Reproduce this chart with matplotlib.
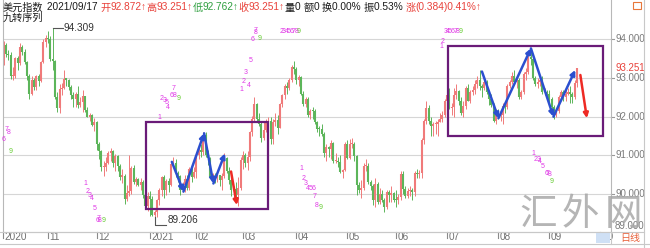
import matplotlib
matplotlib.use('Agg')
import matplotlib.pyplot as plt
import matplotlib.transforms as mtransforms
from matplotlib import font_manager
from matplotlib.patches import Rectangle
from matplotlib.lines import Line2D
import pandas as pd

plt.rcParams['font.family'] = ['Liberation Sans', 'Noto Sans CJK SC', 'DejaVu Sans']
installed = {f.name for f in font_manager.fontManager.ttflist}
narrow = 'Liberation Sans Narrow' if 'Liberation Sans Narrow' in installed else 'Liberation Sans'

# trading days, no bar on 2021-01-01; the calendar runs on to 2021-10-01 for the last tick
days = pd.bdate_range('2020-10-05', '2021-10-01')
days = days[days != pd.Timestamp('2021-01-01')]

first_open = 93.85
closes = [
    # 2020-10
    93.52, 93.87, 93.62, 93.60, 93.05, 93.06, 93.53, 93.38, 93.80, 93.68,
    93.42, 93.05, 92.60, 92.94, 92.76, 93.06, 92.93, 93.41, 93.93, 94.04,
    # 2020-11
    94.02, 93.50, 93.44, 92.52, 92.23, 92.72, 92.74, 92.97, 92.96, 92.76, 92.57,
    92.45, 92.60, 92.30, 92.39, 92.53, 92.18, 92.00, 92.04, 91.79, 91.87,
    # 2020-12
    91.30, 91.12, 90.70, 90.70, 90.80, 91.07, 91.10, 90.80, 90.97, 90.71, 90.45, 90.47,
    89.86, 90.02, 90.08, 90.66, 90.30, 90.38, 90.24, 90.30, 89.97, 89.68, 89.94,
    # 2021-01
    89.87, 89.45, 89.53, 89.83, 90.10, 90.45, 90.11, 90.33, 90.22, 90.77,
    90.80, 90.53, 90.47, 90.10, 90.22, 90.38, 90.15, 90.65, 90.45, 90.58,
    # 2021-02
    91.00, 91.15, 91.08, 91.52, 91.02, 90.92, 90.41, 90.43, 90.42, 90.48,
    90.36, 90.46, 90.93, 90.59, 90.35, 90.09, 90.12, 89.97, 90.14, 90.88,
    # 2021-03
    91.00, 90.81, 90.95, 91.60, 91.95, 92.34, 91.95, 91.82, 91.44, 91.66, 91.85, 91.90,
    91.42, 91.85, 91.92, 91.71, 92.34, 92.55, 92.80, 92.75, 92.94, 93.30, 93.23,
    # 2021-04
    92.94, 93.02, 92.60, 92.34, 92.46, 92.05, 92.16, 92.14, 91.85, 91.68, 91.67,
    91.56, 91.05, 91.21, 91.16, 91.32, 90.85, 90.86, 90.83, 90.58, 90.62, 91.28,
    # 2021-05
    90.94, 91.28, 91.29, 90.97, 90.22, 90.10, 90.15, 90.72, 90.72, 90.30, 90.20,
    89.85, 90.26, 89.80, 90.00, 89.84, 89.65, 90.05, 89.97, 90.03, 89.85,
    # 2021-06
    89.83, 89.92, 90.52, 90.13, 89.95, 90.08, 90.09, 90.05, 90.55, 90.51, 90.54,
    91.40, 91.90, 92.23, 91.90, 91.75, 91.80, 91.80, 91.85, 91.95, 92.05, 92.40,
    # 2021-07
    92.55, 92.23, 92.25, 92.55, 92.66, 92.40, 92.10, 92.28, 92.75, 92.40, 92.63,
    92.70, 92.85, 92.95, 92.80, 92.75, 92.90, 92.65, 92.45, 92.30, 91.90, 92.15,
    # 2021-08
    92.05, 92.05, 92.28, 92.25, 92.80, 92.90, 93.05, 92.90, 92.95, 92.52, 92.65,
    93.10, 93.15, 93.55, 93.50, 93.00, 92.85, 92.90, 92.95, 92.65, 92.65, 92.60,
    # 2021-09
    92.45, 92.25, 92.05, 92.15, 92.50, 92.65, 92.50, 92.60, 92.65, 92.60, 92.50,
    92.867, 93.251,
]
highs = [
    93.90, 93.95, 93.91, 93.72, 93.68, 93.30, 93.55, 93.57, 93.90, 93.85,
    93.75, 93.45, 93.10, 93.05, 93.00, 93.08, 93.10, 93.45, 94.00, 94.12,
    94.22, 94.08, 94.309, 93.48, 92.65, 92.85, 92.86, 93.21, 93.01, 92.98, 92.82,
    92.63, 92.64, 92.80, 92.52, 92.70, 92.54, 92.24, 92.10, 92.06, 91.96,
    91.88, 91.35, 91.13, 90.86, 90.95, 91.10, 91.18, 91.14, 91.03, 91.00, 90.78, 90.65,
    90.52, 90.22, 91.01, 90.72, 90.75, 90.45, 90.40, 90.40, 90.35, 90.00, 90.05,
    90.08, 89.95, 89.58, 89.86, 90.14, 90.47, 90.49, 90.39, 90.40, 90.80,
    90.95, 90.90, 90.60, 90.50, 90.30, 90.48, 90.50, 90.70, 90.75, 90.70,
    91.05, 91.30, 91.30, 91.60, 91.60, 91.15, 90.95, 90.55, 90.55, 90.60,
    90.50, 90.55, 91.05, 90.95, 90.70, 90.40, 90.20, 90.30, 90.43, 90.95,
    91.10, 91.05, 91.10, 91.62, 92.03, 92.50, 92.35, 92.10, 91.90, 91.90, 91.95, 92.00,
    92.00, 91.95, 92.10, 92.05, 92.35, 92.60, 92.85, 92.90, 93.00, 93.35, 93.44,
    93.28, 93.07, 93.05, 92.67, 92.50, 92.50, 92.20, 92.25, 92.20, 91.90, 91.75,
    91.80, 91.60, 91.30, 91.25, 91.40, 91.35, 91.05, 90.95, 91.00, 90.65, 91.35,
    91.40, 91.42, 91.45, 91.35, 91.00, 90.30, 90.35, 90.80, 90.90, 90.80, 90.35,
    90.25, 90.40, 90.30, 90.15, 90.10, 89.90, 90.10, 90.10, 90.20, 90.05,
    90.10, 90.00, 90.60, 90.60, 90.20, 90.15, 90.20, 90.15, 90.60, 90.65, 90.62,
    91.45, 91.95, 92.40, 92.30, 92.00, 91.85, 91.90, 91.95, 92.10, 92.15, 92.45,
    92.60, 92.75, 92.35, 92.75, 92.85, 92.70, 92.50, 92.40, 92.80, 92.85, 92.70,
    92.80, 92.95, 93.05, 93.20, 92.85, 92.95, 92.95, 92.70, 92.60, 92.35, 92.20,
    92.20, 92.15, 92.35, 92.35, 92.85, 92.95, 93.15, 93.20, 93.00, 93.00, 92.70,
    93.15, 93.25, 93.60, 93.73, 93.50, 93.05, 93.00, 93.05, 93.05, 92.75, 92.70,
    92.70, 92.50, 92.30, 92.20, 92.55, 92.70, 92.70, 92.70, 92.75, 92.80, 92.65,
    92.95, 93.251,
]
lows = [
    93.45, 93.35, 93.55, 93.47, 92.98, 92.95, 93.00, 93.22, 93.35, 93.60,
    93.37, 92.95, 92.47, 92.55, 92.69, 92.70, 92.80, 92.90, 93.38, 93.80,
    93.90, 93.45, 93.20, 92.45, 92.13, 92.10, 92.55, 92.71, 92.80, 92.69, 92.45,
    92.26, 92.24, 92.22, 92.25, 92.13, 92.11, 91.98, 91.90, 91.75, 91.62,
    91.15, 90.90, 90.60, 90.47, 90.60, 90.78, 90.85, 90.70, 90.60, 90.60, 90.35, 90.28,
    89.74, 89.82, 89.95, 90.00, 90.25, 90.20, 90.20, 90.10, 89.90, 89.62, 89.55,
    89.42, 89.42, 89.206, 89.40, 89.70, 89.94, 89.90, 89.98, 90.05, 90.20,
    90.70, 90.45, 90.30, 89.97, 90.05, 90.05, 90.10, 90.10, 90.30, 90.40,
    90.40, 90.90, 90.95, 91.00, 90.95, 90.75, 90.40, 90.30, 90.28, 90.30,
    90.20, 90.10, 90.40, 90.55, 90.25, 89.95, 89.90, 89.90, 89.68, 90.10,
    90.65, 90.70, 90.62, 90.85, 91.50, 91.90, 91.85, 91.75, 91.35, 91.40, 91.60, 91.75,
    91.30, 91.30, 91.75, 91.55, 91.70, 92.25, 92.45, 92.60, 92.70, 92.90, 93.10,
    92.85, 92.80, 92.55, 92.28, 92.25, 91.98, 91.95, 91.95, 91.80, 91.60, 91.50,
    91.50, 90.95, 90.85, 90.95, 90.90, 90.80, 90.80, 90.70, 90.55, 90.42, 90.60,
    90.90, 90.90, 91.20, 90.85, 89.98, 90.02, 89.90, 90.10, 90.60, 90.25, 90.10,
    89.70, 89.65, 89.75, 89.75, 89.80, 89.53, 89.60, 89.80, 89.80, 89.80,
    89.65, 89.75, 89.85, 90.00, 89.90, 89.90, 89.95, 89.85, 89.95, 90.40, 90.40,
    90.40, 91.30, 91.80, 91.80, 91.50, 91.50, 91.55, 91.50, 91.85, 91.85, 92.00,
    92.35, 92.20, 92.05, 92.00, 92.45, 92.30, 92.05, 92.00, 92.20, 92.40, 92.35,
    92.55, 92.60, 92.75, 92.70, 92.50, 92.70, 92.60, 92.30, 92.25, 91.85, 91.80,
    91.95, 91.90, 91.80, 92.10, 92.20, 92.75, 92.85, 92.85, 92.75, 92.45, 92.45,
    92.60, 92.95, 93.10, 93.35, 92.95, 92.80, 92.75, 92.80, 92.60, 92.55, 92.45,
    92.35, 92.20, 91.95, 92.00, 92.10, 92.45, 92.40, 92.40, 92.55, 92.35, 92.35,
    92.45, 92.762,
]

# marked extremes (bar index, price)
high_mark = (22, 94.309)
low_mark = (66, 89.206)

# pattern boxes: (first bar, last bar, low price, high price)
boxes = [(62.3, 114.9, 89.61, 91.86), (192.5, 259.3, 91.50, 93.83)]

# zigzag paths drawn inside the boxes (bar index, price)
zig1_x = [73.4, 78.4, 87.3, 91.3, 96.3]
zig1_y = [90.83, 90.06, 91.57, 90.27, 91.05]
proj1 = [(98.9, 90.58), (101.4, 89.71)]
zig2_x = [207.0, 214.1, 228.1, 237.8, 247.2]
zig2_y = [93.17, 91.96, 93.77, 92.00, 93.21]
proj2 = [(249.4, 93.08), (252.2, 91.96)]

# nine-turn sequence counts (digit, bar index, price)
td_text = ['6', '7', '8', '9',
           '1', '2', '3', '4', '5', '6', '7', '8', '9',
           '1', '2', '3', '4', '5', '6', '7', '8', '9',
           '1', '2', '3', '4', '5', '6', '7', '8', '9',
           '2', '3', '4', '5', '6', '7', '8', '9',
           '1', '2', '3', '4', '5', '6', '7', '8', '9',
           '1', '2', '3', '4', '5', '6', '7', '8', '9',
           '1', '2', '3', '4', '5', '6', '7', '8', '9']
td_x = [1.1, 2.0, 3.1, 4.1,
        36.0, 37.2, 37.9, 39.0, 40.3, 41.3, 41.8, 42.4, 43.8,
        67.9, 69.1, 70.2, 71.6, 71.3, 73.1, 74.1, 74.7, 76.2,
        103.2, 104.2, 105.3, 106.4, 107.3, 108.2, 109.3, 109.6, 111.2,
        120.7, 121.7, 122.8, 123.8, 124.9, 125.9, 127.0, 128.0,
        129.0, 130.0, 131.0, 132.1, 133.2, 134.3, 135.1, 136.0, 137.3,
        189.4, 190.2, 191.2, 192.3, 193.3, 194.4, 195.5, 196.6, 197.8,
        229.1, 230.2, 231.3, 232.1, 233.3, 234.7, 235.3, 236.0, 237.2]
td_y = [91.41, 91.67, 91.58, 91.10,
        90.26, 90.05, 89.97, 89.89, 89.63, 89.32, 89.35, 89.32, 89.32,
        91.98, 92.48, 92.42, 92.23, 92.38, 92.54, 92.72, 92.54, 92.46,
        92.71, 92.91, 93.15, 92.82, 93.45, 93.99, 94.22, 94.17, 94.03,
        94.20, 94.20, 94.20, 94.20, 94.20, 94.20, 94.20, 94.20,
        90.65, 90.39, 90.28, 90.13, 90.13, 90.13, 89.93, 89.71, 89.66,
        93.82, 93.96, 94.20, 94.20, 94.20, 94.20, 94.20, 94.20, 94.20,
        91.05, 90.90, 90.88, 90.83, 90.70, 90.52, 90.52, 90.49, 90.31]

price_ticks = [94, 93, 92, 91, 90, 89]
last_price = 93.251

# header line: (text, colour)
header = [('美元指数', '#1a1a1a'), (' 2021/09/17 ', '#1a1a1a'),
          ('开', '#e8413a'), ('92.872↑', '#e8413a'),
          ('高', '#e8413a'), ('93.251↑', '#e8413a'),
          ('低', '#2e9e3e'), ('92.762↑', '#2e9e3e'),
          ('收', '#e8413a'), ('93.251↑', '#e8413a'),
          ('量', '#1a1a1a'), ('0 ', '#1a1a1a'),
          ('额', '#1a1a1a'), ('0 ', '#1a1a1a'),
          ('换', '#1a1a1a'), ('0.00% ', '#1a1a1a'),
          ('振', '#1a1a1a'), ('0.53% ', '#1a1a1a'),
          ('涨', '#e8413a'), ('(0.384)0.41%↑', '#e8413a')]

W, H = 650, 248
UP, DOWN = '#f07a7a', '#5cb55a'

fig = plt.figure(figsize=(W / 100, H / 100), dpi=100)
ax = fig.add_axes([3 / W, 16 / H, 608 / W, 232 / H])
ax.set_xlim(0.65, 262.6)
ax.set_ylim(89.013, 95.023)
ax.set_xticks([])
ax.set_yticks([])
ax.spines['top'].set_visible(False)
for side in ['left', 'right', 'bottom']:
    ax.spines[side].set_color('#b8b8b8')
    ax.spines[side].set_linewidth(0.8)

ax.hlines([p for p in price_ticks if p > 89], 0.65, 262.6, color='#d6d6d6', lw=0.8, zorder=0)

# candles
n = len(closes)
opens = [first_open] + closes[:-1]
for i in range(n):
    col = UP if closes[i] >= opens[i] else DOWN
    lo, hi = sorted((opens[i], closes[i]))
    if hi - lo < 0.03:
        hi = lo + 0.03
    ax.vlines(i, lows[i], highs[i], color=col, lw=0.7, zorder=2)
    ax.vlines(i, lo, hi, color=col, lw=1.5, zorder=2)

# extremes
hx, hy = high_mark
ax.plot([hx, hx + 4.3], [hy, hy], color='#555555', lw=0.8, zorder=3)
ax.text(hx + 4.8, hy, '94.309', fontsize=7.2, color='#333333', va='center', ha='left')
lx, ly = low_mark
ax.plot([lx, lx, lx + 5], [ly + 0.2, ly, ly], color='#555555', lw=0.8, zorder=3)
ax.text(lx + 5.5, ly + 0.13, '89.206', fontsize=7.2, color='#333333', va='center', ha='left')

# boxes
for x0, x1, y0, y1 in boxes:
    ax.add_patch(Rectangle((x0, y0), x1 - x0, y1 - y0, fill=False,
                           edgecolor='#6a1b78', lw=1.6, zorder=4))

def arrow(p0, p1, color):
    ax.annotate('', xy=p1, xytext=p0,
                arrowprops=dict(arrowstyle='-|>', color=color, lw=1.8,
                                mutation_scale=7, shrinkA=0, shrinkB=0), zorder=5)

for zx, zy, proj in [(zig1_x, zig1_y, proj1), (zig2_x, zig2_y, proj2)]:
    for k in range(len(zx) - 1):
        arrow((zx[k], zy[k]), (zx[k + 1], zy[k + 1]), '#2b4fcf')
    arrow(proj[0], proj[1], '#ee2a24')

# nine-turn digits
for t, x, y in zip(td_text, td_x, td_y):
    ax.text(x, y, t, fontsize=5, color='#66cc33' if t == '9' else '#e03ae6',
            ha='center', va='center', zorder=6)

# right price axis
ry = mtransforms.blended_transform_factory(fig.transFigure, ax.transData)
for p in price_ticks:
    yp = p if p > 89 else 89.18
    ax.text(615 / W, yp, '%.3f' % p, transform=ry, fontsize=7, color='#7a7a7a',
            ha='left', va='center')
    if p > 89:
        ax.add_line(Line2D([611 / W, 614 / W], [p, p], transform=ry, color='#9a9a9a',
                           lw=0.8, clip_on=False))
ax.text(615 / W, last_price, '%.3f' % last_price, transform=ry, fontsize=7,
        color='#e8413a', ha='left', va='center')

# month axis
bx = mtransforms.blended_transform_factory(ax.transData, fig.transFigure)
fig.patches.append(Rectangle((596 / W, 1 - 243 / H), 14 / W, 11 / H, transform=fig.transFigure,
                             facecolor='#cfe0f5', edgecolor='none'))
ticks = [(0.65, '2020')]
for i in range(1, len(days)):
    if days[i].month != days[i - 1].month:
        ticks.append((i, '2021' if days[i].year != days[i - 1].year else '%02d' % days[i].month))
for x, lab in ticks:
    ax.add_line(Line2D([x, x], [1 - 232 / H, 1 - 238 / H], transform=bx, color='#8a8a8a',
                       lw=0.8, clip_on=False))
    ax.text(x + 0.7, 1 - 237.5 / H, lab, transform=bx, fontsize=7.2, color='#707070',
            ha='left', va='center')
fig.text(620 / W, 1 - 237.5 / H, '日线', fontsize=7.2, color='#e8603a', ha='left', va='center')

# frame lines
fig.add_artist(Line2D([0, 1], [1 - 243.5 / H] * 2, color='#c8c8c8', lw=0.8))
fig.add_artist(Line2D([611 / W, 611 / W], [1 - 243.5 / H, 1 - 232 / H], color='#c8c8c8', lw=0.8))
fig.add_artist(Line2D([644 / W, 644 / W], [0, 1], color='#c8c8c8', lw=0.8))
fig.add_artist(Line2D([0, 644 / W], [1 - 232 / H] * 2, color='#c8c8c8', lw=0.8))
fig.patches.append(Rectangle((633 / W, 1 - 9 / H), 8 / W, 7 / H, transform=fig.transFigure,
                             fill=False, edgecolor='#e8773a', lw=0.8))

# header, laid out piece by piece
renderer = fig.canvas.get_renderer()
x = 3.0
for s, c in header:
    cjk = not s[0].isascii()
    t = fig.text(x / W, 1 - 7.5 / H, s, fontsize=7.3, color=c, ha='left', va='center',
                 family=['Noto Sans CJK SC'] if cjk else [narrow, 'Noto Sans CJK SC'])
    x += t.get_window_extent(renderer).width
fig.text(3 / W, 1 - 18 / H, '九转序列', fontsize=7.3, color='#1a1a1a', ha='left', va='center',
         family=['Noto Sans CJK SC'])

# watermark
for x, ch in [(538, '汇'), (580, '外'), (623, '网')]:
    fig.text(x / W, 1 - 215 / H, ch, fontsize=27, color='#a8a8a8', alpha=0.85,
             ha='center', va='center', zorder=10)

fig.savefig('out.png', dpi=100)
